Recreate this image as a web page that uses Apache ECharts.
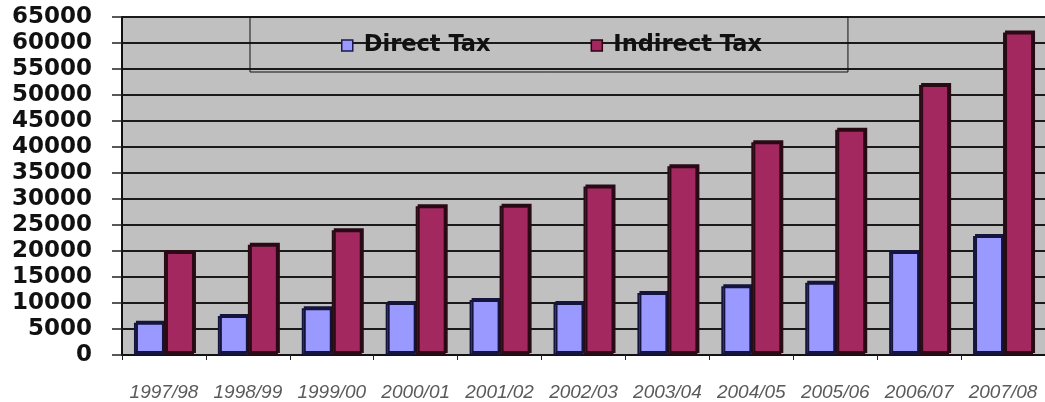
<!DOCTYPE html>
<html>
<head>
<meta charset="utf-8">
<script src="https://cdn.jsdelivr.net/npm/echarts@6/dist/echarts.min.js"></script>
<style>
  html, body { margin: 0; padding: 0; background: #ffffff; }
  #chart { width: 1045px; height: 402px; }
</style>
</head>
<body>
<div id="chart"></div>
<script>
// Fiscal years shown on the category axis
const years = ['1997/98', '1998/99', '1999/00', '2000/01', '2001/02', '2002/03',
               '2003/04', '2004/05', '2005/06', '2006/07', '2007/08'];

// Tax revenue per year
const directTax   = [6200, 7500, 9000, 10000, 10600, 10000, 11900, 13200, 13900, 19800, 22900];
const indirectTax = [19800, 21200, 24000, 28600, 28700, 32400, 36300, 40900, 43300, 51900, 62000];

// Value axis range
const yMin = 0;
const yMax = 65000;
const yStep = 5000;

const chart = echarts.init(document.getElementById('chart'), null, { renderer: 'canvas' });

function barSeries(name, data, fill, edge) {
  return {
    name: name,
    type: 'bar',
    data: data,
    barWidth: 30,
    barGap: '0%',
    itemStyle: {
      color: fill,
      borderColor: edge,
      borderWidth: 2,
      shadowColor: edge,
      shadowBlur: 0,
      shadowOffsetX: 2,
      shadowOffsetY: -2
    }
  };
}

chart.setOption({
  animation: false,
  backgroundColor: '#ffffff',
  grid: {
    left: 122,
    right: -4,
    top: 17,
    bottom: 46,
    show: true,
    backgroundColor: '#c0c0c0',
    borderWidth: 0
  },
  legend: {
    left: 250,
    top: 17,
    orient: 'horizontal',
    padding: [17, 86, 15, 91],
    itemGap: 100,
    itemWidth: 11,
    itemHeight: 11,
    borderColor: '#111111',
    borderWidth: 1,
    icon: 'rect',
    textStyle: {
      fontFamily: 'DejaVu Sans',
      fontWeight: 'bold',
      fontSize: 22.5,
      color: '#111111',
      padding: [0, 0, 0, 6]
    },
    data: [
      { name: 'Direct Tax', itemStyle: { borderColor: '#1a1a50', borderWidth: 1.5 } },
      { name: 'Indirect Tax', itemStyle: { borderColor: '#300010', borderWidth: 1.5 } }
    ]
  },
  xAxis: {
    type: 'category',
    data: years,
    axisLine: { show: true, lineStyle: { color: '#111111', width: 1.5 } },
    axisTick: { show: true, length: 5, lineStyle: { color: '#222222' } },
    axisLabel: {
      margin: 28,
      fontFamily: 'Liberation Sans',
      fontStyle: 'italic',
      fontSize: 19,
      color: '#5a5a5a',
      interval: 0
    }
  },
  yAxis: {
    type: 'value',
    min: yMin,
    max: yMax,
    interval: yStep,
    axisLine: { show: true, lineStyle: { color: '#111111', width: 2 } },
    axisTick: { show: true, length: 10, lineStyle: { color: '#222222', width: 1.5 } },
    axisLabel: {
      margin: 30,
      fontFamily: 'DejaVu Sans',
      fontWeight: 'bold',
      fontSize: 23,
      color: '#111111',
      formatter: function (v) { return String(v); }
    },
    splitLine: { show: true, lineStyle: { color: '#1a1a1a', width: 2 } }
  },
  series: [
    barSeries('Direct Tax', directTax, '#9999ff', '#14143c'),
    barSeries('Indirect Tax', indirectTax, '#a2285f', '#2a0a14')
  ]
});
</script>
</body>
</html>
